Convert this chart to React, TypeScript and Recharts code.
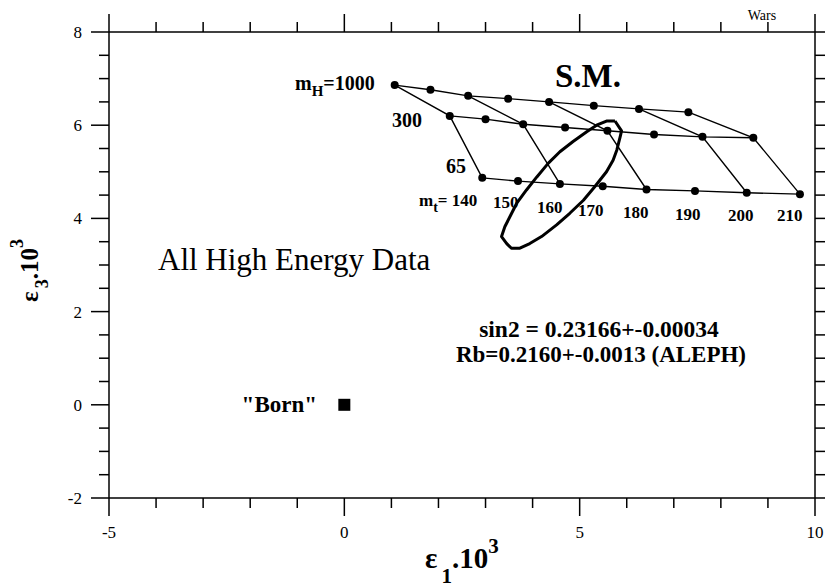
import { Scatter, ScatterChart, XAxis, YAxis } from "recharts";

const FONT = "'Liberation Serif', 'Times New Roman', serif";

// m_t values along each m_H row
const mtValues = [140, 150, 160, 170, 180, 190, 200, 210];
const mhValues = [1000, 300, 65];
// columns joined by lines across the m_H rows
const linkedMt = [140, 160, 180, 200, 210];

const eps1Mh1000 = [1.07, 1.83, 2.63, 3.48, 4.35, 5.3, 6.26, 7.31];
const eps3Mh1000 = [6.86, 6.76, 6.63, 6.57, 6.5, 6.42, 6.35, 6.28];
const eps1Mh300 = [2.24, 3.0, 3.8, 4.69, 5.59, 6.58, 7.61, 8.69];
const eps3Mh300 = [6.2, 6.13, 6.02, 5.95, 5.88, 5.8, 5.75, 5.73];
const eps1Mh65 = [2.93, 3.69, 4.58, 5.49, 6.42, 7.45, 8.55, 9.68];
const eps3Mh65 = [4.87, 4.8, 4.74, 4.69, 4.62, 4.59, 4.55, 4.52];

// fit contour (closed)
const contourEps1 = [
  5.75, 5.89, 5.86, 5.79, 5.71, 5.57, 5.32, 5.08, 4.79, 4.51, 4.19, 3.94,
  3.73, 3.55, 3.45, 3.34, 3.41, 3.52, 3.66, 3.87, 4.09, 4.33, 4.58, 4.86,
  5.15, 5.36, 5.57,
];
const contourEps3 = [
  6.09, 5.88, 5.75, 5.47, 5.25, 5.0, 4.68, 4.39, 4.11, 3.86, 3.61, 3.46,
  3.36, 3.36, 3.46, 3.61, 3.82, 4.04, 4.32, 4.61, 4.89, 5.18, 5.43, 5.65,
  5.86, 6.0, 6.09,
];

const bornEps1 = [0];
const bornEps3 = [0];

const xTicks = [-5, -4, -3, -2, -1, 0, 1, 2, 3, 4, 5, 6, 7, 8, 9, 10];
const yTicks = [
  -2, -1.5, -1, -0.5, 0, 0.5, 1, 1.5, 2, 2.5, 3, 3.5, 4, 4.5, 5, 5.5, 6,
  6.5, 7, 7.5, 8,
];

const eps1Rows = [eps1Mh1000, eps1Mh300, eps1Mh65];
const eps3Rows = [eps3Mh1000, eps3Mh300, eps3Mh65];

const rows = mhValues.map((mh, r) =>
  mtValues.map((mt, i) => ({ x: eps1Rows[r][i], y: eps3Rows[r][i], mh, mt }))
);
const columns = linkedMt.map((mt) => {
  const i = mtValues.indexOf(mt);
  return rows.map((row) => row[i]);
});
const contour = contourEps1.map((x, i) => ({ x, y: contourEps3[i] }));
contour.push(contour[0]);
const born = bornEps1.map((x, i) => ({ x, y: bornEps3[i] }));

const AX = { stroke: "#000", strokeWidth: 1.5 };
const tickText = { fontFamily: FONT, fontSize: 17, fill: "#000" };

function BottomTick({ x, y, payload }: any) {
  const major = payload.value % 5 === 0;
  return (
    <g>
      <line x1={x} x2={x} y1={y} y2={y + (major ? 18 : 10)} {...AX} />
      {major && (
        <text x={x} y={y + 40} textAnchor="middle" style={tickText}>
          {payload.value}
        </text>
      )}
    </g>
  );
}

function TopTick({ x, y, payload }: any) {
  const major = payload.value % 5 === 0;
  return <line x1={x} x2={x} y1={y} y2={y - (major ? 18 : 10)} {...AX} />;
}

function LeftTick({ x, y, payload }: any) {
  const major = payload.value % 2 === 0;
  return (
    <g>
      <line x1={x} x2={x - (major ? 18 : 10)} y1={y} y2={y} {...AX} />
      {major && (
        <text x={x - 27} y={y + 6} textAnchor="end" style={tickText}>
          {payload.value}
        </text>
      )}
    </g>
  );
}

function RightTick({ x, y, payload }: any) {
  const major = payload.value % 2 === 0;
  return <line x1={x} x2={x + (major ? 18 : 10)} y1={y} y2={y} {...AX} />;
}

const Dot = ({ cx, cy }: any) => <circle cx={cx} cy={cy} r={4} fill="#000" />;
const NoDot = () => <g />;
const Square = ({ cx, cy }: any) => (
  <rect x={cx - 6} y={cy - 6} width={12} height={12} fill="#000" />
);

function Overlay() {
  const b = { fontFamily: FONT, fontWeight: "bold" as const, fill: "#000" };
  return (
    <svg
      width={825}
      height={588}
      style={{ position: "absolute", left: 0, top: 0, pointerEvents: "none" }}
    >
      <text x={762} y={20} textAnchor="middle" fontFamily={FONT} fontSize={14}>
        Wars
      </text>
      <text x={588} y={87} textAnchor="middle" fontSize={33} {...b}>
        S.M.
      </text>
      <text x={295} y={90} fontSize={20} {...b}>
        m<tspan fontSize={15} dy={6}>H</tspan>
        <tspan dy={-6}>=1000</tspan>
      </text>
      <text x={392} y={127} fontSize={20} {...b}>300</text>
      <text x={446} y={173} fontSize={20} {...b}>65</text>
      <text x={419} y={206} fontSize={17} {...b}>
        m<tspan fontSize={14} dy={6}>t</tspan>
        <tspan dy={-6}>= 140</tspan>
      </text>
      <text x={493} y={208} fontSize={17} {...b}>150</text>
      <text x={537} y={213} fontSize={17} {...b}>160</text>
      <text x={578} y={216} fontSize={17} {...b}>170</text>
      <text x={623} y={218} fontSize={17} {...b}>180</text>
      <text x={675} y={220} fontSize={17} {...b}>190</text>
      <text x={728} y={221} fontSize={17} {...b}>200</text>
      <text x={777} y={221} fontSize={17} {...b}>210</text>
      <text x={158} y={270} fontFamily={FONT} fontSize={31}>
        All High Energy Data
      </text>
      <text x={317} y={412} textAnchor="end" fontSize={23} {...b}>
        "Born"
      </text>
      <text x={599} y={337} textAnchor="middle" fontSize={23.5} {...b}>
        sin2 = 0.23166+-0.00034
      </text>
      <text x={601} y={362} textAnchor="middle" fontSize={23} {...b}>
        Rb=0.2160+-0.0013 (ALEPH)
      </text>
      <text x={425} y={568} fontSize={29} {...b}>
        ε<tspan fontSize={21} dx={4} dy={15}>1</tspan>
        <tspan dy={-15}>.10</tspan>
        <tspan fontSize={21} dy={-15}>3</tspan>
      </text>
      <text transform="rotate(-90)" x={-302} y={38} fontSize={25} {...b}>
        ε<tspan fontSize={18} dx={3} dy={10}>3</tspan>
        <tspan dy={-10}>.10</tspan>
        <tspan fontSize={18} dy={-15}>3</tspan>
      </text>
    </svg>
  );
}

export default function App() {
  return (
    <div style={{ position: "absolute", left: 0, top: 0, width: 825, height: 588, background: "#fff" }}>
      <ScatterChart width={825} height={588} margin={{ top: 0, right: 0, bottom: 0, left: 0 }}>
        <XAxis
          xAxisId="bottom"
          dataKey="x"
          type="number"
          domain={[-5, 10]}
          ticks={xTicks}
          interval={0}
          allowDataOverflow
          height={90}
          tickSize={0}
          tickMargin={0}
          tickLine={false}
          axisLine={AX}
          tick={BottomTick}
        />
        <XAxis
          xAxisId="top"
          orientation="top"
          dataKey="x"
          type="number"
          domain={[-5, 10]}
          ticks={xTicks}
          interval={0}
          allowDataOverflow
          height={32}
          tickSize={0}
          tickMargin={0}
          tickLine={false}
          axisLine={AX}
          tick={TopTick}
        />
        <YAxis
          yAxisId="left"
          dataKey="y"
          type="number"
          domain={[-2, 8]}
          ticks={yTicks}
          interval={0}
          allowDataOverflow
          width={109}
          tickSize={0}
          tickMargin={0}
          tickLine={false}
          axisLine={AX}
          tick={LeftTick}
        />
        <YAxis
          yAxisId="right"
          orientation="right"
          dataKey="y"
          type="number"
          domain={[-2, 8]}
          ticks={yTicks}
          interval={0}
          allowDataOverflow
          width={10}
          tickSize={0}
          tickMargin={0}
          tickLine={false}
          axisLine={AX}
          tick={RightTick}
        />
        {columns.map((col, i) => (
          <Scatter
            key={`mt-${linkedMt[i]}`}
            xAxisId="bottom"
            yAxisId="left"
            data={col}
            line={{ stroke: "#000", strokeWidth: 1.4 }}
            shape={NoDot}
            isAnimationActive={false}
          />
        ))}
        {rows.map((row, i) => (
          <Scatter
            key={`mh-${mhValues[i]}`}
            xAxisId="bottom"
            yAxisId="left"
            data={row}
            line={{ stroke: "#000", strokeWidth: 1.4 }}
            shape={Dot}
            isAnimationActive={false}
          />
        ))}
        <Scatter
          xAxisId="bottom"
          yAxisId="left"
          data={contour}
          line={{ stroke: "#000", strokeWidth: 3, strokeLinejoin: "round" }}
          shape={NoDot}
          isAnimationActive={false}
        />
        <Scatter
          xAxisId="bottom"
          yAxisId="left"
          data={born}
          shape={Square}
          isAnimationActive={false}
        />
      </ScatterChart>
      <Overlay />
    </div>
  );
}
